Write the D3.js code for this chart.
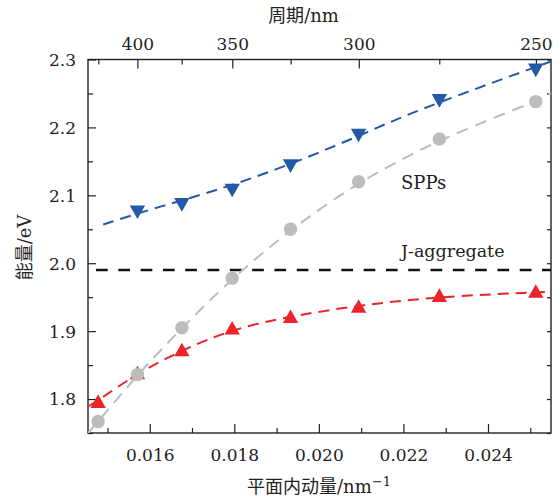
<!DOCTYPE html>
<html><head><meta charset="utf-8">
<script src="https://cdn.jsdelivr.net/npm/d3@7/dist/d3.min.js"></script>
<style>body{margin:0;background:#fff}svg{display:block}</style>
</head><body>
<script>
// ---- data ----
const momentum = [0.01478, 0.01571, 0.01676, 0.01795, 0.01933, 0.02094, 0.02285, 0.02513]; // nm^-1, markers
const upperBranch = [null, 2.075, 2.086, 2.107, 2.143, 2.188, 2.239, 2.284];   // blue ▼
const sppBranch   = [1.767, 1.836, 1.905, 1.978, 2.050, 2.120, 2.183, 2.238];  // grey ●
const lowerBranch = [1.797, 1.839, 1.873, 1.905, 1.922, 1.937, 1.953, 1.959];  // red ▲
// fitted dashed curves
const upperFitK = [0.01490, 0.01600, 0.01691, 0.01821, 0.01970, 0.02097, 0.02200, 0.02397, 0.02549];
const upperFitE = [2.057, 2.079, 2.095, 2.120, 2.155, 2.188, 2.217, 2.263, 2.297];
const sppFitK = [0.01454, 0.01478, 0.01571, 0.01676, 0.01795, 0.01933, 0.02094, 0.02285, 0.02513, 0.02549];
const sppFitE = [1.750, 1.767, 1.836, 1.905, 1.978, 2.050, 2.120, 2.183, 2.238, 2.250];
const lowerFitK = [0.01454, 0.01478, 0.01571, 0.01676, 0.01795, 0.01933, 0.02094, 0.02285, 0.02513, 0.02549];
const lowerFitE = [1.789, 1.798, 1.838, 1.872, 1.903, 1.922, 1.938, 1.951, 1.957, 1.958];
const jAggK = [0.01473, 0.02549];
const jAggE = [1.99, 1.99];
// ticks
const xMajor = [0.016, 0.018, 0.020, 0.022, 0.024];
const xMinor = [0.015, 0.017, 0.019, 0.021, 0.023, 0.025];
const yMajor = [1.8, 1.9, 2.0, 2.1, 2.2, 2.3];
const yMinor = [1.75, 1.85, 1.95, 2.05, 2.15, 2.25];
const periodMajor = [400, 350, 300, 250];
const periodMinor = [425, 375, 325, 275];

const W = 560, H = 499;
const L = 88, R = 551, T = 59.5, B = 433;
const serif = "'DejaVu Serif', serif";
const cjk = "'Noto Sans CJK SC', sans-serif";

const svg = d3.select("body").append("svg").attr("width", W).attr("height", H);
const x = d3.scaleLinear().domain([0.01454, 0.02549]).range([L, R]);
const y = d3.scaleLinear().domain([1.75, 2.3]).range([B, T]);

svg.append("clipPath").attr("id", "clip").append("rect")
  .attr("x", L).attr("y", T).attr("width", R - L).attr("height", B - T);

// axes
function styleAxis(g) {
  g.select(".domain").remove();
  g.selectAll("line").attr("stroke", "#222").attr("stroke-width", 1.2);
  g.selectAll("text").attr("font-family", serif).attr("font-size", 17).attr("fill", "#222");
}
// bottom
const gb = svg.append("g").attr("transform", `translate(0,${B})`);
gb.append("g").call(d3.axisBottom(x).tickValues(xMajor).tickFormat(d3.format(".3f")).tickSize(-9)).call(styleAxis)
  .selectAll("text").attr("y", 22.5).attr("dy", "0.35em");
gb.append("g").call(d3.axisBottom(x).tickValues(xMinor).tickFormat("").tickSize(-5)).call(styleAxis);
// top (period)
const gt = svg.append("g").attr("transform", `translate(0,${T})`);
gt.append("g").call(d3.axisTop(x).tickValues(periodMajor.map(p => 2 * Math.PI / p)).tickFormat((d, i) => periodMajor[i]).tickSize(-9)).call(styleAxis)
  .selectAll("text").attr("y", -15.5).attr("dy", "0.35em");
gt.append("g").call(d3.axisTop(x).tickValues(periodMinor.map(p => 2 * Math.PI / p)).tickFormat("").tickSize(-5)).call(styleAxis);
// left
const gl = svg.append("g").attr("transform", `translate(${L},0)`);
gl.append("g").call(d3.axisLeft(y).tickValues(yMajor).tickFormat(d3.format(".1f")).tickSize(-8)).call(styleAxis)
  .selectAll("text").attr("x", -12).attr("dy", "0.35em");
gl.append("g").call(d3.axisLeft(y).tickValues(yMinor).tickFormat("").tickSize(-5)).call(styleAxis);
// right
const gr = svg.append("g").attr("transform", `translate(${R},0)`);
gr.append("g").call(d3.axisRight(y).tickValues(yMajor.concat(yMinor)).tickFormat("").tickSize(-4)).call(styleAxis);

// frame
svg.append("rect").attr("x", L).attr("y", T).attr("width", R - L).attr("height", B - T)
  .attr("fill", "none").attr("stroke", "#222").attr("stroke-width", 1.4);

// curves
const plot = svg.append("g").attr("clip-path", "url(#clip)");
const line = d3.line().x(d => x(d[0])).y(d => y(d[1])).curve(d3.curveBasis);
const zip = (a, b) => a.map((v, i) => [v, b[i]]);
const C = { blue: "#2458a8", red: "#ec2328", grey: "#bcbcbc" };

plot.append("path").datum(zip(jAggK, jAggE)).attr("d", line)
  .attr("fill", "none").attr("stroke", "#111").attr("stroke-width", 2.4).attr("stroke-dasharray", "11.7,10.6");
plot.append("path").datum(zip(lowerFitK, lowerFitE)).attr("d", line)
  .attr("fill", "none").attr("stroke", C.red).attr("stroke-width", 2).attr("stroke-dasharray", "11,7");
plot.append("path").datum(zip(sppFitK, sppFitE)).attr("d", line)
  .attr("fill", "none").attr("stroke", C.grey).attr("stroke-width", 2).attr("stroke-dasharray", "12,8");
plot.append("path").datum(zip(upperFitK, upperFitE)).attr("d", line)
  .attr("fill", "none").attr("stroke", C.blue).attr("stroke-width", 2).attr("stroke-dasharray", "11,7");

// markers
const tw = 7.7, th = 6.8;
const triUp = `M0,${-th}L${tw},${th}L${-tw},${th}Z`;
const triDown = `M0,${th}L${tw},${-th}L${-tw},${-th}Z`;
svg.append("g").selectAll("path").data(zip(momentum, lowerBranch)).join("path")
  .attr("d", triUp).attr("fill", C.red)
  .attr("transform", d => `translate(${x(d[0])},${y(d[1])})`);
svg.append("g").selectAll("circle").data(zip(momentum, sppBranch)).join("circle")
  .attr("cx", d => x(d[0])).attr("cy", d => y(d[1])).attr("r", 6.7).attr("fill", C.grey);
svg.append("g").selectAll("path").data(zip(momentum, upperBranch).filter(d => d[1] != null)).join("path")
  .attr("d", triDown).attr("fill", C.blue)
  .attr("transform", d => `translate(${x(d[0])},${y(d[1])})`);

// annotations
svg.append("text").attr("x", 401).attr("y", 188.5).attr("font-family", serif).attr("font-size", 18)
  .attr("fill", "#222").text("SPPs");
svg.append("text").attr("x", 401).attr("y", 256.5).attr("font-family", serif).attr("font-size", 17.5)
  .attr("fill", "#222").text("J-aggregate");

// axis titles
function mixed(t, parts) {
  parts.forEach(p => {
    const s = t.append("tspan").text(p.t).attr("font-family", p.cjk ? cjk : serif)
      .attr("font-size", p.size || 18);
    if (p.dy) s.attr("dy", p.dy);
  });
}
const tt = svg.append("text").attr("x", 303.5).attr("y", 21.5).attr("text-anchor", "middle").attr("fill", "#222");
mixed(tt, [{ t: "周期", cjk: true }, { t: "/nm" }]);
const bt = svg.append("text").attr("x", 319).attr("y", 492.5).attr("text-anchor", "middle").attr("fill", "#222");
mixed(bt, [{ t: "平面内动量", cjk: true }, { t: "/nm" }, { t: "−1", size: 13, dy: -7 }]);
const lt = svg.append("text").attr("transform", "translate(30.5,247.5) rotate(-90)").attr("text-anchor", "middle").attr("fill", "#222");
mixed(lt, [{ t: "能量", cjk: true }, { t: "/eV" }]);
</script>
</body></html>
